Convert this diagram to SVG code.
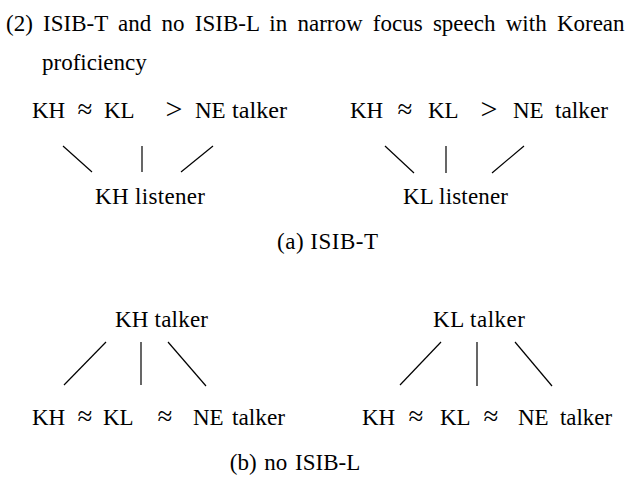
<svg xmlns="http://www.w3.org/2000/svg" width="631" height="477" viewBox="0 0 631 477">
<style>
text{font-family:"Liberation Serif","Times New Roman",serif;font-size:23px;fill:#000}
.m{text-anchor:middle}
.ap{text-anchor:middle;font-size:27px}
.gt{text-anchor:middle;font-size:30px}
line{stroke:#000;stroke-width:1.2}
</style>
<rect width="631" height="477" fill="#fff"/>
<g id="title">
<text x="6" y="31" word-spacing="4.5">(2) ISIB-T and no ISIB-L in narrow focus speech with Korean</text>
<text x="42" y="70">proficiency</text>
</g>
<g id="a-left-talkers">
<text x="32" y="118">KH</text><text class="ap" x="85" y="118">≈</text><text x="104" y="118">KL</text><text class="gt" x="174" y="119">&gt;</text><text x="195" y="118">NE</text><text x="232" y="118" textLength="55" lengthAdjust="spacingAndGlyphs">talker</text>
</g>
<g id="a-right-talkers">
<text x="350" y="118">KH</text><text class="ap" x="405" y="118">≈</text><text x="428" y="118">KL</text><text class="gt" x="489" y="119">&gt;</text><text x="513" y="118">NE</text><text x="555" y="118" textLength="53" lengthAdjust="spacingAndGlyphs">talker</text>
</g>
<g id="a-kh-listener"><text x="95" y="204" textLength="110" lengthAdjust="spacing">KH listener</text></g>
<g id="a-kl-listener"><text x="403" y="204" textLength="105" lengthAdjust="spacing">KL listener</text></g>
<g id="caption-a"><text x="277" y="249" textLength="101" lengthAdjust="spacing">(a) ISIB-T</text></g>
<g id="b-kh-talker"><text x="115" y="327" textLength="93" lengthAdjust="spacing">KH talker</text></g>
<g id="b-kl-talker"><text x="433" y="327" textLength="92" lengthAdjust="spacing">KL talker</text></g>
<g id="b-left-listeners">
<text x="32" y="425">KH</text><text class="ap" x="85" y="425">≈</text><text x="103" y="425">KL</text><text class="ap" x="165" y="425">≈</text><text x="193" y="425">NE</text><text x="232" y="425" textLength="53" lengthAdjust="spacingAndGlyphs">talker</text>
</g>
<g id="b-right-listeners">
<text x="362" y="425">KH</text><text class="ap" x="416" y="425">≈</text><text x="440" y="425">KL</text><text class="ap" x="491" y="425">≈</text><text x="518" y="425">NE</text><text x="560" y="425" textLength="52" lengthAdjust="spacingAndGlyphs">talker</text>
</g>
<g id="caption-b"><text class="m" x="295" y="470" word-spacing="2">(b) no ISIB-L</text></g>
<g id="connectors">
<line x1="63" y1="146" x2="92" y2="172"/><line x1="142" y1="146" x2="142" y2="172"/><line x1="213" y1="146" x2="181" y2="172"/>
<line x1="385" y1="146" x2="414" y2="173"/><line x1="446" y1="146" x2="446" y2="173"/><line x1="524" y1="146" x2="492" y2="173"/>
<line x1="106" y1="342" x2="64" y2="385"/><line x1="141" y1="342" x2="141" y2="385"/><line x1="168" y1="342" x2="206" y2="386"/>
<line x1="441" y1="342" x2="400" y2="385"/><line x1="477" y1="342" x2="477" y2="386"/><line x1="515" y1="342" x2="552" y2="386"/>
</g>
</svg>
